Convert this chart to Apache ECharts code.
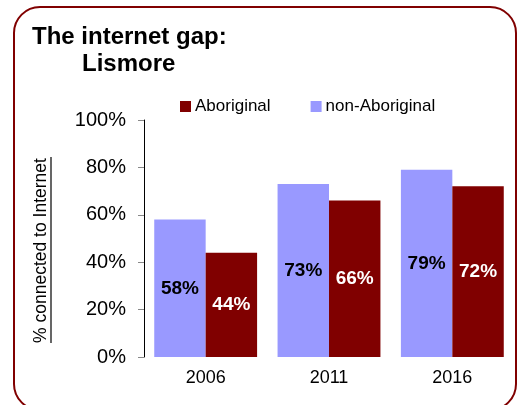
<!DOCTYPE html>
<html><head><meta charset="utf-8">
<script src="https://cdn.jsdelivr.net/npm/echarts@6/dist/echarts.min.js"></script>
<style>html,body{margin:0;padding:0;background:#fff}#c{width:520px;height:405px}</style>
</head><body><div id="c"></div>
<script>
var categories = ['2006', '2011', '2016'];
var nonAboriginal = [58, 73, 79];
var aboriginal = [44, 66, 72];
var yTicks = [0, 20, 40, 60, 80, 100];

var chart = echarts.init(document.getElementById('c'));
var F = '"Liberation Sans", Arial, sans-serif';
chart.setOption({
  animation: false,
  textStyle: { fontFamily: F },
  graphic: [
    { type: 'rect', shape: { x: 14, y: 7, width: 502, height: 403, r: 26 },
      style: { fill: 'none', stroke: '#800000', lineWidth: 2 } },
    { type: 'text', left: 32, top: 25, style: { text: 'The internet gap:', font: 'bold 24px ' + F, fill: '#000' } },
    { type: 'text', left: 82, top: 52, style: { text: 'Lismore', font: 'bold 24px ' + F, fill: '#000' } },
    { type: 'line', shape: { x1: 51, y1: 157, x2: 51, y2: 343 }, style: { stroke: '#000', lineWidth: 1.2 } }
  ],
  legend: {
    data: ['Aboriginal', 'non-Aboriginal'],
    top: 93, left: 175,
    itemWidth: 11, itemHeight: 11, itemGap: 40,
    icon: 'rect',
    textStyle: { fontSize: 17, color: '#000', fontFamily: F, padding: [0, 0, 0, -1] }
  },
  grid: { left: 144, right: 6, top: 120, bottom: 48, containLabel: false },
  xAxis: {
    type: 'category', data: categories,
    axisLine: { show: false }, axisTick: { show: false },
    axisLabel: { fontSize: 18, color: '#000', margin: 12, fontFamily: F }
  },
  yAxis: {
    type: 'value', min: 0, max: 100, interval: 20,
    name: '% connected to Internet', nameLocation: 'middle', nameRotate: 90, nameGap: 94,
    nameTextStyle: { fontSize: 17.5, color: '#000', fontFamily: F, padding: [0, 24, 0, 0] },
    axisLine: { show: true, lineStyle: { color: '#000', width: 1 } },
    axisTick: { show: true, length: 6, lineStyle: { color: '#888' } },
    splitLine: { show: false },
    axisLabel: { fontSize: 20, color: '#000', margin: 18, fontFamily: F,
      formatter: function (v) { return yTicks.indexOf(v) >= 0 ? v + '%' : ''; } }
  },
  series: [
    { name: 'non-Aboriginal', type: 'bar', data: nonAboriginal, barGap: '0%', barCategoryGap: '16.6%',
      itemStyle: { color: '#9999FF' },
      label: { show: true, position: 'inside', formatter: '{c}%', fontSize: 19, fontWeight: 'bold', color: '#000', fontFamily: F } },
    { name: 'Aboriginal', type: 'bar', data: aboriginal, barGap: '0%', barCategoryGap: '16.6%',
      itemStyle: { color: '#800000' },
      label: { show: true, position: 'inside', formatter: '{c}%', fontSize: 19, fontWeight: 'bold', color: '#fff', fontFamily: F } }
  ]
});
</script></body></html>
